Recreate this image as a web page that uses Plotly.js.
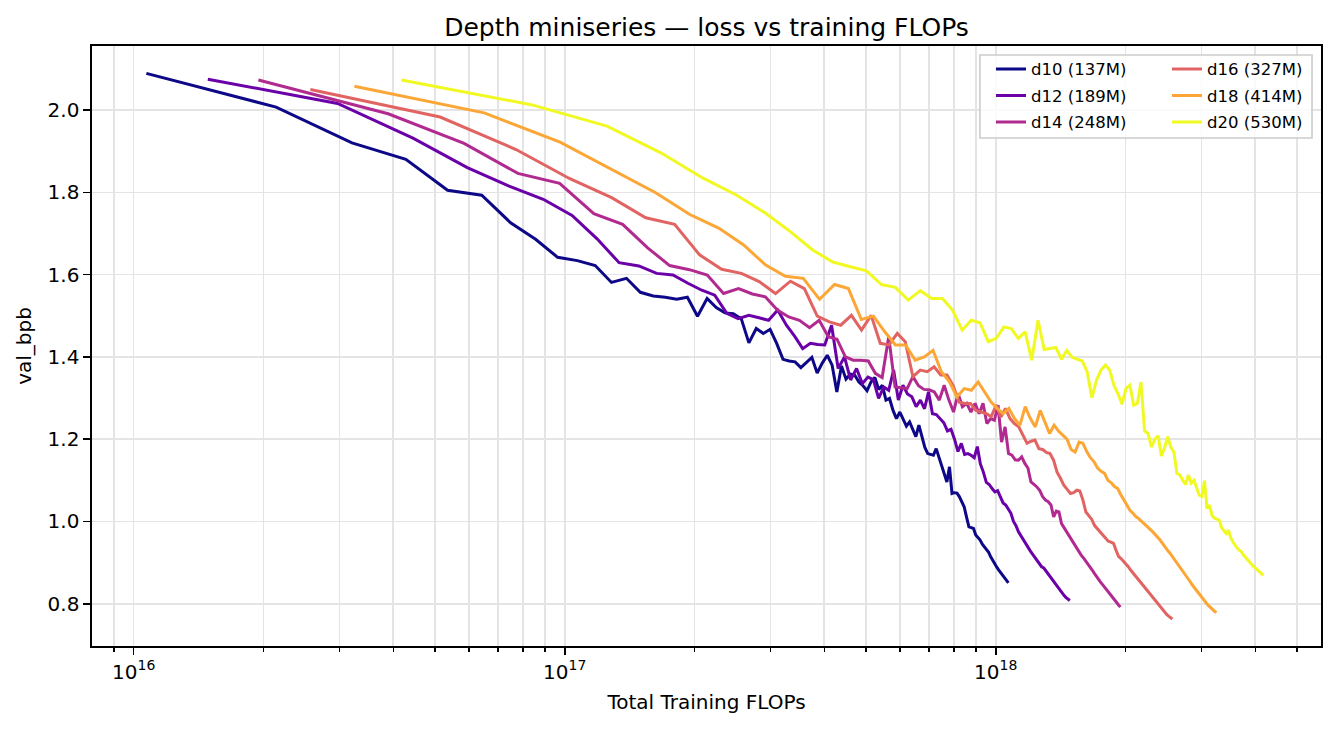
<!DOCTYPE html>
<html>
<head>
<meta charset="utf-8">
<script src="https://cdn.plot.ly/plotly-3.0.1.min.js"></script>
<style>html,body{margin:0;padding:0;background:#fff;}#chart{width:1334px;height:729px;}</style>
</head>
<body>
<div id="chart"></div>
<script>
// ---- data ----
const modelNames = ['d10 (137M)', 'd12 (189M)', 'd14 (248M)', 'd16 (327M)', 'd18 (414M)', 'd20 (530M)'];
// training FLOPs between two evaluations, per model
const flopsPerEval = [1.070e16, 1.486e16, 1.947e16, 2.570e16, 3.252e16, 4.179e16];
// evaluation index (shared by all models)
const evalIndex = [1,2,3,4,5,6,7,8,9,10,11,12,13,14,15,16,17,18,19,20,
  21,22,23,24,25,26,27,28,29,30,31,32,33,34,35,36,37,38,39,40,
  41,42,43,44,45,46,47,48,49,50,51,52,53,54,55,56,57,58,59,60,
  61,62,63,64,65,66,67,68,69,70,71,72,73,74,75,76,77,78,79,80,
  81,82,83,84,85,86,87,88,89,90,91,92,93,94,95,96,97,98,99,100];

const bpb_d10 = [2.089,2.007,1.920,1.880,1.805,1.793,1.726,1.686,1.642,1.634,
  1.622,1.581,1.591,1.557,1.548,1.545,1.540,1.545,1.499,1.542,
  1.520,1.507,1.505,1.493,1.434,1.469,1.457,1.467,1.433,1.394,
  1.390,1.388,1.374,1.387,1.399,1.361,1.385,1.404,1.380,1.315,
  1.378,1.346,1.358,1.356,1.339,1.330,1.318,1.339,1.350,1.321,
  1.331,1.295,1.299,1.270,1.250,1.266,1.250,1.232,1.242,1.225,
  1.206,1.234,1.206,1.180,1.165,1.163,1.161,1.177,1.157,1.140,
  1.116,1.096,1.133,1.068,1.070,1.069,1.060,1.045,1.035,1.010,
  0.987,0.985,0.983,0.967,0.960,0.955,0.945,0.938,0.934,0.925,
  0.914,0.905,0.895,0.889,0.882,0.875,0.869,0.862,0.857,0.851];

const bpb_d12 = [2.075,2.016,1.931,1.860,1.815,1.783,1.744,1.687,1.629,1.621,
  1.603,1.599,1.579,1.562,1.550,1.506,1.493,1.501,1.495,1.489,
  1.514,1.477,1.450,1.420,1.433,1.430,1.429,1.477,1.372,1.400,
  1.344,1.372,1.335,1.351,1.345,1.299,1.327,1.319,1.368,1.295,
  1.331,1.310,1.303,1.279,1.295,1.274,1.315,1.262,1.260,1.250,
  1.240,1.220,1.224,1.200,1.170,1.190,1.163,1.165,1.161,1.155,
  1.182,1.140,1.120,1.095,1.090,1.080,1.072,1.075,1.060,1.045,
  1.040,1.030,1.020,1.000,0.990,0.975,0.965,0.955,0.948,0.935,
  0.928,0.920,0.912,0.905,0.897,0.890,0.887,0.880,0.872,0.865,
  0.857,0.850,0.844,0.838,0.832,0.826,0.820,0.815,0.811,0.808];

const bpb_d14 = [2.073,1.991,1.919,1.846,1.822,1.748,1.722,1.665,1.622,1.612,
  1.599,1.554,1.566,1.553,1.546,1.514,1.497,1.489,1.471,1.489,
  1.449,1.443,1.400,1.392,1.392,1.390,1.360,1.350,1.449,1.327,
  1.325,1.323,1.352,1.330,1.321,1.320,1.315,1.295,1.331,1.295,
  1.266,1.311,1.279,1.287,1.266,1.287,1.262,1.287,1.238,1.250,
  1.246,1.283,1.193,1.230,1.165,1.161,1.150,1.149,1.157,1.141,
  1.130,1.096,1.090,1.084,1.075,1.060,1.052,1.048,1.040,1.011,
  1.025,1.023,0.995,0.985,0.972,0.965,0.955,0.945,0.935,0.926,
  0.919,0.912,0.905,0.898,0.890,0.882,0.874,0.866,0.859,0.852,
  0.846,0.840,0.833,0.827,0.821,0.815,0.809,0.803,0.797,0.792];

const bpb_d16 = [2.050,1.983,1.904,1.833,1.787,1.738,1.722,1.648,1.613,1.603,
  1.583,1.554,1.584,1.566,1.499,1.485,1.477,1.501,1.465,1.501,
  1.433,1.429,1.457,1.437,1.352,1.368,1.364,1.376,1.356,1.356,
  1.330,1.290,1.287,1.287,1.270,1.265,1.262,1.255,1.283,1.254,
  1.275,1.250,1.238,1.230,1.210,1.190,1.195,1.198,1.177,1.175,
  1.168,1.165,1.149,1.120,1.105,1.088,1.078,1.068,1.070,1.076,
  1.074,1.052,1.023,1.015,1.005,0.990,0.982,0.975,0.967,0.960,
  0.952,0.950,0.947,0.930,0.915,0.910,0.904,0.898,0.890,0.882,
  0.875,0.868,0.861,0.855,0.848,0.840,0.833,0.826,0.820,0.814,
  0.808,0.803,0.796,0.790,0.785,0.779,0.774,0.770,0.766,0.763];

const bpb_d18 = [2.058,1.993,1.922,1.852,1.799,1.746,1.713,1.672,1.623,1.596,
  1.591,1.540,1.576,1.566,1.491,1.499,1.461,1.429,1.429,1.392,
  1.400,1.416,1.364,1.340,1.303,1.323,1.319,1.339,1.315,1.290,
  1.275,1.262,1.275,1.250,1.234,1.279,1.250,1.230,1.270,1.240,
  1.214,1.234,1.220,1.210,1.200,1.175,1.169,1.193,1.190,1.170,
  1.155,1.145,1.130,1.122,1.117,1.100,1.094,1.085,1.080,1.065,
  1.052,1.040,1.027,1.020,1.012,1.007,1.000,0.995,0.988,0.982,
  0.976,0.970,0.962,0.955,0.946,0.937,0.930,0.923,0.915,0.908,
  0.899,0.891,0.884,0.877,0.870,0.862,0.853,0.845,0.838,0.832,
  0.826,0.820,0.812,0.805,0.800,0.795,0.790,0.786,0.782,0.779];

const bpb_d20 = [2.073,2.013,1.961,1.896,1.835,1.793,1.749,1.704,1.660,1.631,
  1.619,1.609,1.576,1.569,1.538,1.561,1.542,1.542,1.514,1.465,
  1.489,1.483,1.437,1.445,1.473,1.469,1.445,1.461,1.392,1.489,
  1.418,1.420,1.423,1.394,1.416,1.399,1.395,1.390,1.364,1.301,
  1.343,1.368,1.380,1.368,1.331,1.310,1.285,1.323,1.331,1.283,
  1.287,1.339,1.220,1.214,1.181,1.200,1.208,1.159,1.180,1.206,
  1.180,1.169,1.117,1.113,1.100,1.090,1.113,1.093,1.100,1.080,
  1.064,1.061,1.099,1.031,1.040,1.015,1.008,1.006,1.003,0.985,
  0.978,0.971,0.979,0.960,0.950,0.942,0.935,0.930,0.926,0.918,
  0.912,0.906,0.900,0.895,0.890,0.886,0.881,0.877,0.873,0.869];

const xMajorTicks = [1e16, 1e17, 1e18];
const xMajorLabels = ['10<sup>16</sup>', '10<sup>17</sup>', '10<sup>18</sup>'];
const xMinorTicks = [9e15, 2e16,3e16,4e16,5e16,6e16,7e16,8e16,9e16,
  2e17,3e17,4e17,5e17,6e17,7e17,8e17,9e17, 2e18,3e18,4e18,5e18];
const yTicks = [0.8, 1.0, 1.2, 1.4, 1.6, 1.8, 2.0];
const yTickLabels = ['0.8', '1.0', '1.2', '1.4', '1.6', '1.8', '2.0'];

// ---- styles ----
const lineColors = ['#0d0887', '#6a00a8', '#b12a90', '#e16462', '#fca636', '#f0f921'];
const seriesValues = [bpb_d10, bpb_d12, bpb_d14, bpb_d16, bpb_d18, bpb_d20];
const FONT = 'DejaVu Sans, Liberation Sans, sans-serif';
const GRID = '#e4e4e4';

const traces = seriesValues.map((vals, i) => ({
  type: 'scatter',
  mode: 'lines',
  name: modelNames[i],
  x: evalIndex.map(k => k * flopsPerEval[i]),
  y: vals,
  line: {color: lineColors[i], width: 3},
  legend: i < 3 ? 'legend' : 'legend2',
  legendgroup: 'g' + i,
  hoverinfo: 'skip'
}));

const legendCommon = {
  bgcolor: 'rgba(0,0,0,0)', borderwidth: 0,
  font: {family: FONT, size: 16.5, color: '#000'},
  xref: 'paper', yref: 'paper', xanchor: 'left', yanchor: 'top',
  y: 0.9903, tracegroupgap: 2, traceorder: 'grouped', itemwidth: 30
};

const layout = {
  width: 1334, height: 729,
  margin: {l: 92, r: 13, t: 46, b: 83, pad: 0},
  paper_bgcolor: '#fff', plot_bgcolor: '#fff',
  font: {family: FONT, color: '#000'},
  title: {
    text: 'Depth miniseries — loss vs training FLOPs',
    font: {family: FONT, size: 25, color: '#000'},
    x: 0.5, xref: 'paper', xanchor: 'center',
    y: 1 - 27/729, yref: 'container', yanchor: 'middle'
  },
  xaxis: {
    type: 'log',
    range: [15.9033, 18.7547],
    showline: true, linecolor: '#000', linewidth: 1.6, mirror: true,
    tickmode: 'array', tickvals: xMajorTicks, ticktext: xMajorLabels,
    ticks: 'outside', ticklen: 7, tickwidth: 1.6, tickcolor: '#000',
    tickfont: {family: FONT, size: 20, color: '#000'},
    showgrid: true, gridcolor: GRID, gridwidth: 1.6,
    minor: {tickmode: 'array', tickvals: xMinorTicks, ticks: 'outside', ticklen: 4, tickwidth: 1.2,
            tickcolor: '#000', showgrid: true, gridcolor: GRID, gridwidth: 1.6},
    zeroline: false,
    title: {text: 'Total Training FLOPs', font: {family: FONT, size: 20, color: '#000'}, standoff: 12}
  },
  yaxis: {
    range: [0.6974, 2.1556],
    showline: true, linecolor: '#000', linewidth: 1.6, mirror: true,
    tickmode: 'array', tickvals: yTicks, ticktext: yTickLabels,
    ticks: 'outside', ticklen: 7, tickwidth: 1.6, tickcolor: '#000',
    tickfont: {family: FONT, size: 20, color: '#000'},
    showgrid: true, gridcolor: GRID, gridwidth: 1.6,
    zeroline: false,
    title: {text: 'val_bpb', font: {family: FONT, size: 20, color: '#000'}, standoff: 10}
  },
  showlegend: true,
  legend: Object.assign({}, legendCommon, {x: 0.7315}),
  legend2: Object.assign({}, legendCommon, {x: 0.8747}),
  shapes: [{
    type: 'rect', xref: 'paper', yref: 'paper', layer: 'above',
    x0: 0.7225, x1: 0.9927, y0: 0.8466, y1: 0.985,
    fillcolor: 'rgba(255,255,255,0.8)', line: {color: '#cccccc', width: 1.6}
  }]
};

Plotly.newPlot('chart', traces, layout, {displayModeBar: false, staticPlot: true});
</script>
</body>
</html>
